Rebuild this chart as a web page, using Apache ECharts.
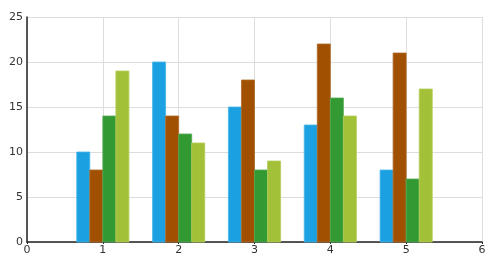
<!DOCTYPE html>
<html><head><meta charset="utf-8">
<script src="https://cdn.jsdelivr.net/npm/echarts@6/dist/echarts.min.js"></script>
<style>html,body{margin:0;padding:0;background:#fff}#c{width:500px;height:269px}</style>
</head><body><div id="c"></div>
<script>
const xPositions = [1, 2, 3, 4, 5];
const series1 = [10, 20, 15, 13, 8];
const series2 = [8, 14, 18, 22, 21];
const series3 = [14, 12, 8, 16, 7];
const series4 = [19, 11, 9, 14, 17];
const colors = ['#1ba1e2', '#a05000', '#339933', '#a2c139'];
const borders = ['#48b4ea', '#b06a2a', '#55aa55', '#b4cd5c'];
const barFrac = 0.172;

const chart = echarts.init(document.getElementById('c'), null, {renderer: 'canvas'});
const all = [series1, series2, series3, series4];
chart.setOption({
  animation: false,
  grid: {left: 27, right: 18, top: 17, bottom: 27},
  xAxis: {
    type: 'value', min: 0, max: 6, interval: 1,
    axisLine: {show: true, onZero: false, lineStyle: {color: '#222', width: 1.5}},
    axisTick: {show: true, length: 2, lineStyle: {color: '#222'}},
    axisLabel: {color: '#333', fontFamily: 'DejaVu Sans', fontSize: 11, margin: 3},
    splitLine: {show: true, lineStyle: {color: '#dddddd'}}
  },
  yAxis: {
    type: 'value', min: 0, max: 25, interval: 5,
    axisLine: {show: true, lineStyle: {color: '#222', width: 1.5}},
    axisTick: {show: false},
    axisLabel: {color: '#333', fontFamily: 'DejaVu Sans', fontSize: 11, margin: 4},
    splitLine: {show: true, lineStyle: {color: '#dddddd'}}
  },
  series: all.map((s, i) => ({
    type: 'custom',
    data: xPositions.map((x, j) => [x, s[j]]),
    encode: {x: 0, y: 1},
    z: 3,
    renderItem: function (params, api) {
      const top = api.coord([api.value(0), api.value(1)]);
      const base = api.coord([api.value(0), 0]);
      const w = api.size([1, 0])[0] * barFrac;
      const x = top[0] + (i - 2) * w;
      return {
        type: 'rect',
        shape: {x: x, y: top[1], width: w, height: base[1] - top[1]},
        style: {fill: colors[i], stroke: borders[i], lineWidth: 0.8}
      };
    }
  }))
});
</script></body></html>
